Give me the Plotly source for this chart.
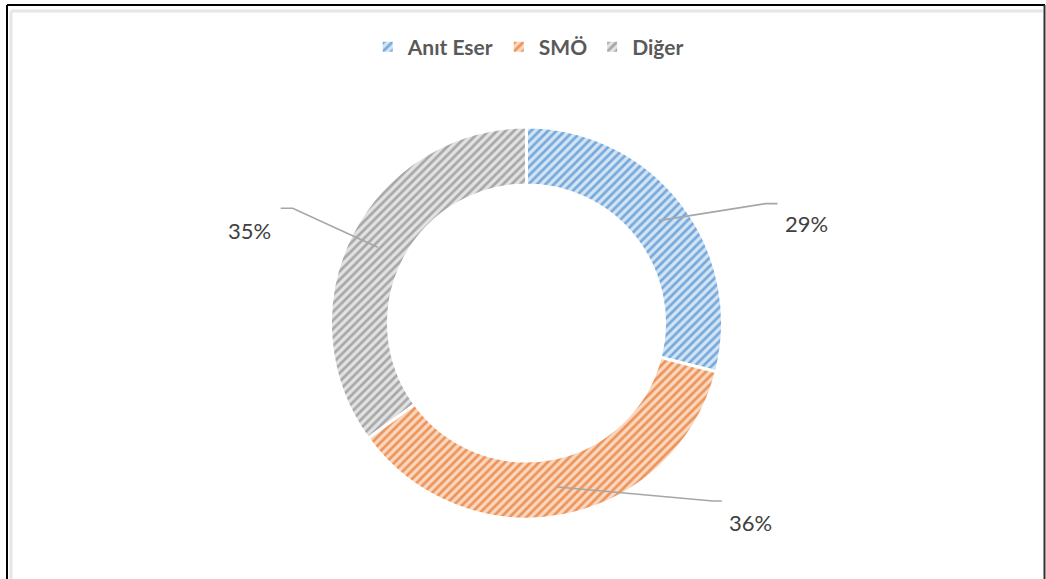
import math
import plotly.graph_objects as go

W, H = 1046, 579

# ---- data ----
categories = ["Anıt Eser", "SMÖ", "Diğer"]
values = [29, 36, 35]
text_labels = ["29%", "36%", "35%"]

# ---- styles ----
base_colors = ["#5B9BD5", "#ED7D31", "#A5A5A5"]
stripe_colors = ["#76A9DB", "#EE9358", "#A7A7A7"]
bg_colors = ["#D3E4F4", "#F9D7C0", "#E2E2E2"]
CX, CY, R_OUT, R_IN = 526.5, 323.0, 196.0, 138.0
# per-label offsets (px) from the slice anchor: elbow, end of line, text centre
label_offsets = [
    ((107, -17), (119, -17), (148, 3)),
    ((155, 14), (164, 14), (193, 35)),
    ((-85, -39), (-97, -39), (-128, -17)),
]


def px(x):
    return x / W


def py(y):
    return 1 - y / H


fig = go.Figure()
fig.add_trace(go.Pie(
    labels=categories,
    values=values,
    sort=False,
    direction="clockwise",
    rotation=0,
    hole=R_IN / R_OUT,
    textinfo="none",
    hoverinfo="label+percent",
    marker=dict(
        colors=base_colors,
        line=dict(color="white", width=3),
        pattern=dict(shape="/", size=6, solidity=0.45,
                     fgcolor=stripe_colors, bgcolor=bg_colors,
                     fillmode="replace"),
    ),
    domain=dict(x=[px(CX - R_OUT), px(CX + R_OUT)],
                y=[py(CY + R_OUT), py(CY - R_OUT)]),
))

# leader lines & labels computed from data angles
total = sum(values)
cum = 0
shapes = []
annotations = []
r_mid = (R_OUT + R_IN) / 2
for v, lab, (el, en, tx) in zip(values, text_labels, label_offsets):
    mid = (cum + v / 2) / total
    cum += v
    ang = 2 * math.pi * mid
    ax = CX + r_mid * math.sin(ang)
    ay = CY - r_mid * math.cos(ang)
    ex, ey = ax + el[0], ay + el[1]
    nx, ny = ax + en[0], ay + en[1]
    shapes.append(dict(
        type="path", xref="paper", yref="paper",
        path=f"M {px(ax)},{py(ay)} L {px(ex)},{py(ey)} L {px(nx)},{py(ny)}",
        line=dict(color="#A6A6A6", width=1.6),
    ))
    annotations.append(dict(
        x=px(ax + tx[0]), y=py(ay + tx[1]), xref="paper", yref="paper",
        text=lab, showarrow=False, xanchor="center", yanchor="middle",
        font=dict(family="Lato, Open Sans, sans-serif", size=22, color="#404040"),
    ))

# chart frame
shapes += [
    dict(type="line", xref="paper", yref="paper", x0=px(11), x1=px(1043), y0=py(11), y1=py(11),
         line=dict(color="#E6E6E6", width=3)),
    dict(type="line", xref="paper", yref="paper", x0=px(11), x1=px(11), y0=py(11), y1=0,
         line=dict(color="#E6E6E6", width=3)),
    dict(type="line", xref="paper", yref="paper", x0=px(7), x1=px(1045), y0=py(5), y1=py(5),
         line=dict(color="#000000", width=2)),
    dict(type="line", xref="paper", yref="paper", x0=px(7), x1=px(7), y0=py(5), y1=0,
         line=dict(color="#000000", width=2)),
    dict(type="line", xref="paper", yref="paper", x0=px(1044.5), x1=px(1044.5), y0=py(5), y1=0,
         line=dict(color="#333333", width=2)),
]

fig.update_layout(
    width=W, height=H,
    margin=dict(l=0, r=0, t=0, b=0),
    paper_bgcolor="white",
    plot_bgcolor="white",
    showlegend=True,
    legend=dict(
        orientation="h", x=0.505, xanchor="center", y=py(47), yanchor="middle",
        font=dict(family="Lato, Open Sans, sans-serif", size=21, color="#595959",
                  weight="bold"),
        itemsizing="constant",
        itemwidth=30,
        traceorder="normal",
    ),
    shapes=shapes,
    annotations=annotations,
)

fig.write_html(
    "out.html",
    config={"displayModeBar": False},
    post_script="document.body.style.margin='0';document.body.style.overflow='hidden';",
)
